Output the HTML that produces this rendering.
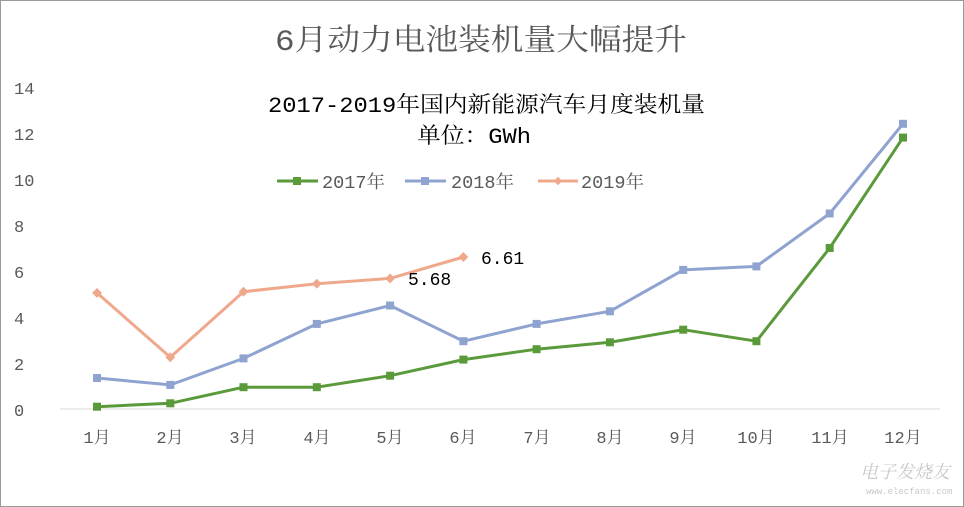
<!DOCTYPE html>
<html><head><meta charset="utf-8"><style>
body{margin:0;background:#fff}
svg{display:block}
text{font-family:"Liberation Mono","Noto Serif CJK SC",serif}
</style></head><body>
<svg width="964" height="507" viewBox="0 0 964 507">
<rect x="0.5" y="0.5" width="963" height="506" fill="#fff" stroke="#9a9a9a"/>
<text x="275" y="50" font-size="30" fill="#595959" textLength="412" lengthAdjust="spacingAndGlyphs">6月动力电池装机量大幅提升</text>
<g font-size="17" fill="#595959">
<text x="14" y="94">14</text><text x="14" y="140">12</text><text x="14" y="186">10</text>
<text x="14" y="232">8</text><text x="14" y="278">6</text><text x="14" y="324">4</text>
<text x="14" y="370">2</text><text x="14" y="416">0</text>
</g>
<line x1="60" y1="409" x2="940" y2="409" stroke="#d9d9d9"/>
<g font-size="17" fill="#595959" text-anchor="middle">
<text x="97" y="443">1月</text><text x="170" y="443">2月</text><text x="243" y="443">3月</text>
<text x="317" y="443">4月</text><text x="390" y="443">5月</text><text x="463" y="443">6月</text>
<text x="537" y="443">7月</text><text x="610" y="443">8月</text><text x="683" y="443">9月</text>
<text x="756" y="443">10月</text><text x="830" y="443">11月</text><text x="903" y="443">12月</text>
</g>
<text x="268" y="112" font-size="22" fill="#000" textLength="437" lengthAdjust="spacingAndGlyphs">2017-2019年国内新能源汽车月度装机量</text>
<text x="417" y="143" font-size="22" fill="#000" textLength="114" lengthAdjust="spacingAndGlyphs">单位：GWh</text>
<g font-size="18" fill="#595959">
<line x1="277" y1="181" x2="318" y2="181" stroke="#5b9a3a" stroke-width="3"/><rect x="293" y="177" width="8" height="8" fill="#5b9a3a"/>
<text x="322" y="188" textLength="63" lengthAdjust="spacingAndGlyphs">2017年</text>
<line x1="405" y1="181" x2="446" y2="181" stroke="#8fa3d1" stroke-width="3"/><rect x="421" y="177" width="8" height="8" fill="#8fa3d1"/>
<text x="451" y="188" textLength="63" lengthAdjust="spacingAndGlyphs">2018年</text>
<line x1="538" y1="181" x2="578" y2="181" stroke="#f0a88c" stroke-width="3"/><rect x="555" y="178" width="6" height="6" fill="#f0a88c" transform="rotate(45 558 181)"/>
<text x="581" y="188" textLength="63" lengthAdjust="spacingAndGlyphs">2019年</text>
</g>
<g fill="none" stroke-width="3" stroke-linejoin="round">
<polyline stroke="#f0a88c" points="97,292.9 170.3,357.3 243.5,291.7 316.8,283.7 390.1,278.4 463.4,257"/>
<polyline stroke="#8fa3d1" points="97,378 170.3,384.9 243.5,358.4 316.8,323.9 390.1,305.5 463.4,341.2 536.6,323.9 609.9,311.3 683.2,269.9 756.4,266.4 829.7,213.5 903,123.8"/>
<polyline stroke="#5b9a3a" points="97,406.7 170.3,403.3 243.5,387.2 316.8,387.2 390.1,375.7 463.4,359.6 536.6,349.2 609.9,342.3 683.2,329.7 756.4,341.2 829.7,248 903,137.6"/>
</g>
<g fill="#f0a88c">
<g transform="translate(97,292.9) rotate(45)"><rect x="-3.5" y="-3.5" width="7" height="7"/></g>
<g transform="translate(170.3,357.3) rotate(45)"><rect x="-3.5" y="-3.5" width="7" height="7"/></g>
<g transform="translate(243.5,291.7) rotate(45)"><rect x="-3.5" y="-3.5" width="7" height="7"/></g>
<g transform="translate(316.8,283.7) rotate(45)"><rect x="-3.5" y="-3.5" width="7" height="7"/></g>
<g transform="translate(390.1,278.4) rotate(45)"><rect x="-3.5" y="-3.5" width="7" height="7"/></g>
<g transform="translate(463.4,257) rotate(45)"><rect x="-3.5" y="-3.5" width="7" height="7"/></g>
</g>
<g fill="#8fa3d1">
<rect x="93" y="374" width="8" height="8"/><rect x="166.3" y="380.9" width="8" height="8"/><rect x="239.5" y="354.4" width="8" height="8"/><rect x="312.8" y="319.9" width="8" height="8"/><rect x="386.1" y="301.5" width="8" height="8"/><rect x="459.4" y="337.2" width="8" height="8"/><rect x="532.6" y="319.9" width="8" height="8"/><rect x="605.9" y="307.3" width="8" height="8"/><rect x="679.2" y="265.9" width="8" height="8"/><rect x="752.4" y="262.4" width="8" height="8"/><rect x="825.7" y="209.5" width="8" height="8"/><rect x="899" y="119.8" width="8" height="8"/>
</g>
<g fill="#5b9a3a">
<rect x="93" y="402.7" width="8" height="8"/><rect x="166.3" y="399.3" width="8" height="8"/><rect x="239.5" y="383.2" width="8" height="8"/><rect x="312.8" y="383.2" width="8" height="8"/><rect x="386.1" y="371.7" width="8" height="8"/><rect x="459.4" y="355.6" width="8" height="8"/><rect x="532.6" y="345.2" width="8" height="8"/><rect x="605.9" y="338.3" width="8" height="8"/><rect x="679.2" y="325.7" width="8" height="8"/><rect x="752.4" y="337.2" width="8" height="8"/><rect x="825.7" y="244" width="8" height="8"/><rect x="899" y="133.6" width="8" height="8"/>
</g>
<text x="408" y="285" font-size="18" fill="#000">5.68</text>
<text x="481" y="264" font-size="18" fill="#000">6.61</text>
<text x="860" y="478" font-size="18" fill="#c8c8c8" font-style="italic">电子发烧友</text>
<text x="866" y="494" font-size="9" fill="#c8c8c8">www.elecfans.com</text>
</svg>
</body></html>
